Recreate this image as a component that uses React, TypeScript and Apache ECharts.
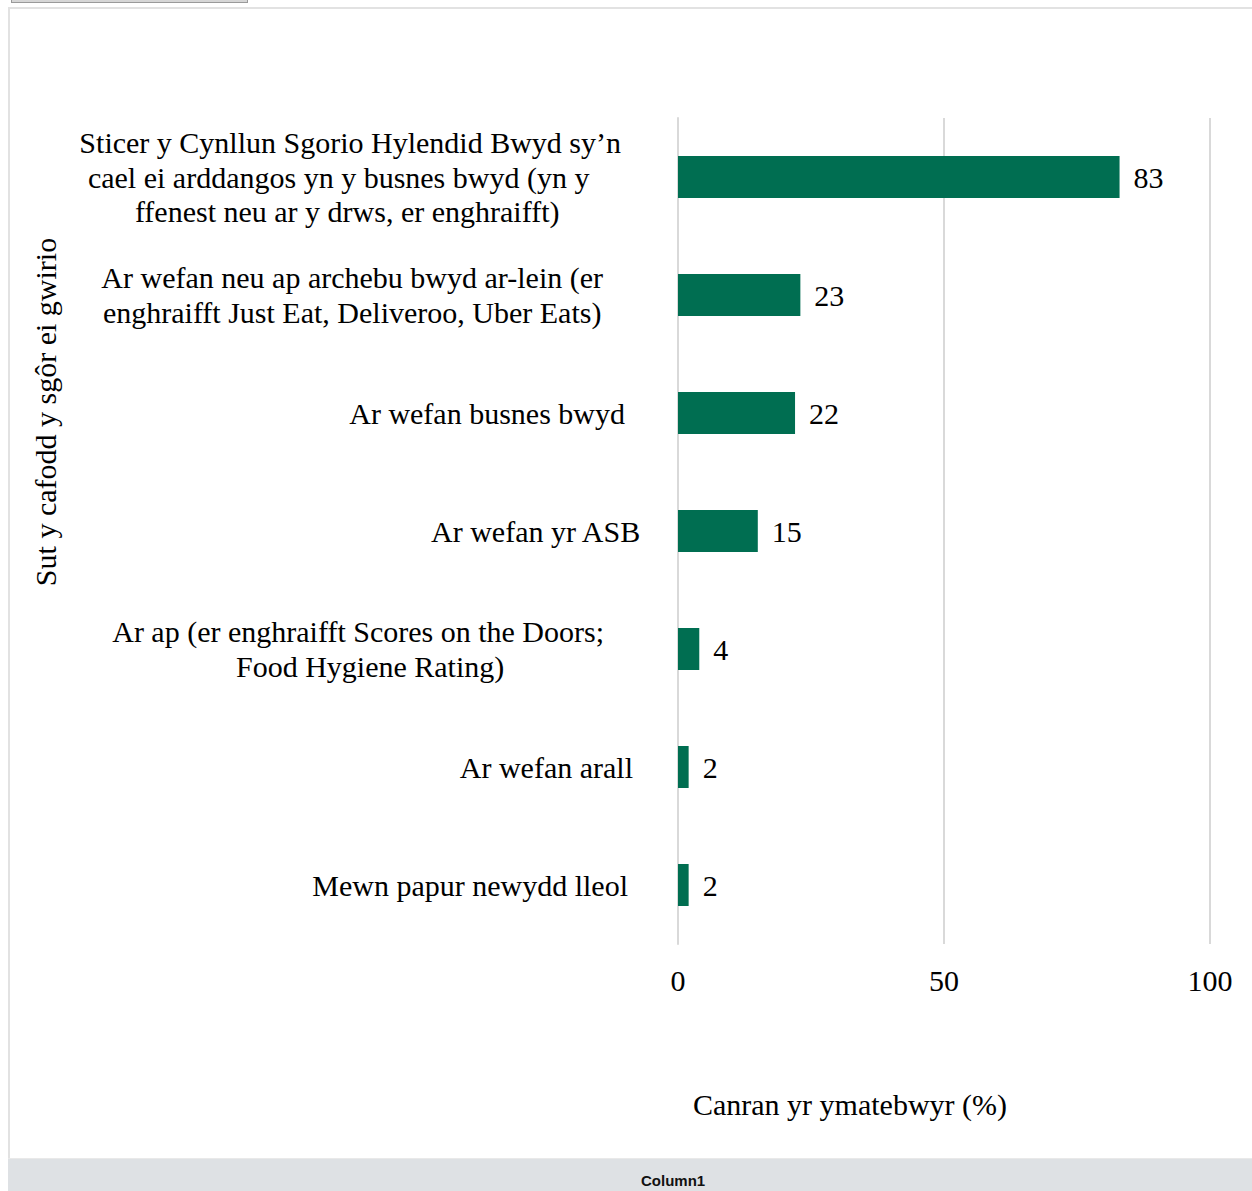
import React, { useEffect, useRef } from "react";
import * as echarts from "echarts";

const categories: string[] = [
  "Sticer y Cynllun Sgorio Hylendid Bwyd sy’n\ncael ei arddangos yn y busnes bwyd (yn y\nffenest neu ar y drws, er enghraifft)",
  "Ar wefan neu ap archebu bwyd ar-lein (er\nenghraifft Just Eat, Deliveroo, Uber Eats)",
  "Ar wefan busnes bwyd",
  "Ar wefan yr ASB",
  "Ar ap (er enghraifft Scores on the Doors;\nFood Hygiene Rating)",
  "Ar wefan arall",
  "Mewn papur newydd lleol",
];
const values: number[] = [83, 23, 22, 15, 4, 2, 2];
// layout tweaks: right shift of each label block, and per-line nudges [left, right]
const labelShift: number[] = [20, 38, 16, 0, 37, 8, 13];
const lineNudge: Record<string, [number, number]> = {
  "0_1": [0, 23],
  "0_2": [0, 6],
  "4_1": [24, 0],
};
const xTitle = "Canran yr ymatebwyr (%)";
const yTitle = "Sut y cafodd y sgôr ei gwirio";
const footerLabel = "Column1";

const FONT = "'Liberation Serif', 'Times New Roman', serif";
const FS = 30;

export default function App() {
  const ref = useRef<HTMLDivElement>(null);

  useEffect(() => {
    if (!ref.current) return;
    const chart = echarts.init(ref.current, undefined, { renderer: "svg" });
    const rich: Record<string, any> = {};
    categories.forEach((cat, i) => {
      cat.split("\n").forEach((_, j) => {
        const n = lineNudge[`${i}_${j}`] || [0, 0];
        rich[`l${i}_${j}`] = {
          fontFamily: FONT,
          fontSize: FS,
          color: "#000",
          lineHeight: 34.5,
          align: "center",
          padding: [0, labelShift[i] + n[1], 0, n[0]],
        };
      });
    });
    chart.setOption({
      animation: false,
      grid: { left: 678, right: 42, top: 118, bottom: 247, containLabel: false },
      xAxis: {
        type: "value",
        min: 0,
        max: 100,
        interval: 50,
        axisLine: { show: false },
        axisTick: { show: false },
        splitLine: { show: true, lineStyle: { color: "#d9d9d9", width: 2 } },
        axisLabel: { fontFamily: FONT, fontSize: FS, color: "#000", margin: 21 },
      },
      yAxis: {
        type: "category",
        inverse: true,
        data: categories,
        axisLine: { show: true, lineStyle: { color: "#d9d9d9", width: 2 } },
        axisTick: { show: false },
        axisLabel: {
          margin: 37,
          align: "right",
          formatter: (val: string, idx: number) =>
            val
              .split("\n")
              .map((line, j) => `{l${idx}_${j}|${line}}`)
              .join("\n"),
          rich,
        },
      },
      series: [
        {
          type: "bar",
          data: values,
          barWidth: 42,
          itemStyle: { color: "#006e51" },
          label: {
            show: true,
            position: "right",
            distance: 14,
            fontFamily: FONT,
            fontSize: FS,
            color: "#000",
          },
        },
      ],
      graphic: [
        {
          type: "text",
          x: 45,
          y: 412,
          rotation: Math.PI / 2,
          style: {
            text: yTitle,
            fontFamily: FONT,
            fontSize: FS,
            fill: "#000",
            align: "center",
            verticalAlign: "middle",
          },
        },
        {
          type: "text",
          x: 850,
          y: 1104,
          style: {
            text: xTitle,
            fontFamily: FONT,
            fontSize: FS,
            fill: "#000",
            align: "center",
            verticalAlign: "middle",
          },
        },
      ],
    });
    return () => chart.dispose();
  }, []);

  return (
    <div style={{ position: "absolute", left: 0, top: 0, width: 1252, height: 1191, overflow: "hidden", background: "#fff" }}>
      <div
        style={{
          position: "absolute",
          left: 11,
          top: -6,
          width: 237,
          height: 9,
          boxSizing: "border-box",
          border: "1px solid #9a9a9a",
          borderTop: "none",
          background: "#d6d6d6",
        }}
      />
      <div
        style={{
          position: "absolute",
          left: 8,
          top: 7,
          width: 1244,
          height: 1151,
          boxSizing: "border-box",
          borderLeft: "2px solid #e2e2e2",
          borderTop: "2px solid #e2e2e2",
        }}
      />
      <div ref={ref} style={{ position: "absolute", left: 0, top: 0, width: 1252, height: 1191 }} />
      <div
        style={{
          position: "absolute",
          left: 8,
          top: 1158,
          width: 1244,
          height: 33,
          boxSizing: "border-box",
          background: "#dee1e4",
          borderTop: "1px solid #e9e9e9",
        }}
      >
        <span
          style={{
            position: "absolute",
            left: 633,
            top: 0,
            lineHeight: "43px",
            fontFamily: "'Liberation Sans', Arial, sans-serif",
            fontWeight: "bold",
            fontSize: 15,
            color: "#111",
          }}
        >
          {footerLabel}
        </span>
      </div>
    </div>
  );
}
